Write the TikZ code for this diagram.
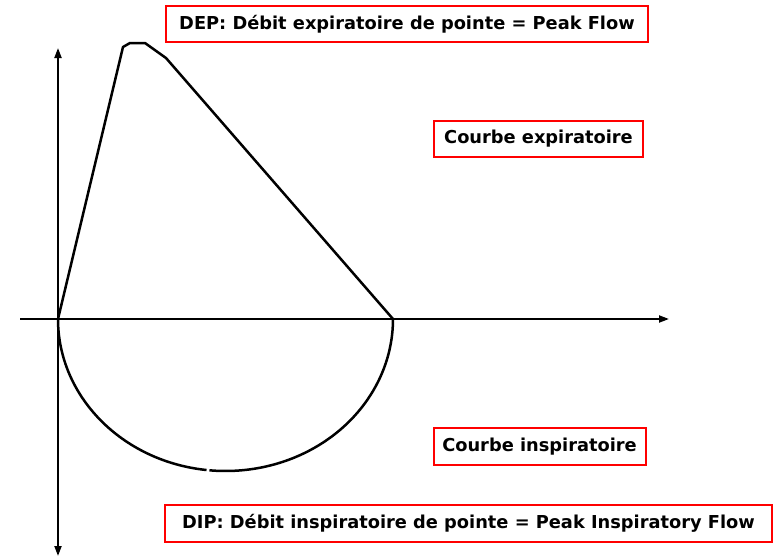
\documentclass[tikz,border=0pt]{standalone}
\usepackage{fontspec}
\setmainfont{DejaVu Sans}
\usetikzlibrary{arrows.meta}
\begin{document}
\begin{tikzpicture}[x=1pt,y=-1pt,
  lbl/.style={draw=red, line width=2pt, fill=white, inner sep=0pt, font=\bfseries\fontsize{17.8}{20}\selectfont, text=black},
  axis/.style={line width=2pt, -{Triangle[length=10pt,width=7pt]}},
  curve/.style={line width=2.5pt, line join=round}]
\useasboundingbox (0,0) rectangle (780,560);
% axes
\coordinate (O) at (58,319);
\coordinate (ytop) at (58,48);
\coordinate (ybot) at (58,556);
\coordinate (xl) at (20,319);
\coordinate (xr) at (669,319);
\draw[axis, {Triangle[length=10pt,width=7pt]}-{Triangle[length=10pt,width=7pt]}] (ybot) -- (ytop);
\draw[axis] (xl) -- (xr);
% expiratory curve
\coordinate (E) at (393,319);
\draw[curve] (O) -- (123,47) -- (130,43) -- (145,43) -- (166,58) -- (E);
% inspiratory curve
\draw[curve] (O) arc[start angle=180, end angle=96.5, x radius=167.5, y radius=152];
\draw[curve] (E) arc[start angle=0, end angle=95.5, x radius=167.5, y radius=152];
% labels
\node[lbl, minimum width=482pt, minimum height=36pt] (dep) at (407,24) {DEP: Débit expiratoire de pointe = Peak Flow};
\node[lbl, minimum width=209pt, minimum height=36pt] (cexp) at (538.5,139) {Courbe expiratoire};
\node[lbl, minimum width=212pt, minimum height=37pt] (cinsp) at (539.5,446.5) {Courbe inspiratoire};
\node[lbl, minimum width=607pt, minimum height=37pt] (dip) at (468.5,523.5) {DIP: Débit inspiratoire de pointe = Peak Inspiratory Flow};
\end{tikzpicture}
\end{document}
